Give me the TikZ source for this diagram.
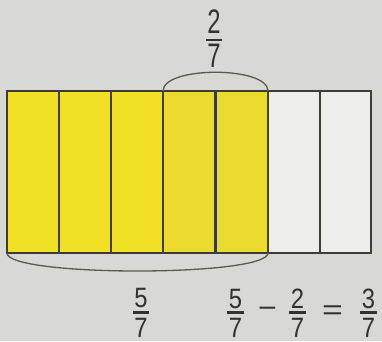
\documentclass[tikz,border=0pt]{standalone}
\usepackage{fontspec}
\setmainfont{Liberation Sans}
\definecolor{paper}{RGB}{216,216,213}
\definecolor{ylw}{RGB}{242,224,36}
\definecolor{ylwb}{RGB}{235,219,46}
\definecolor{wcell}{RGB}{237,237,235}
\definecolor{ink}{RGB}{62,60,52}
\definecolor{txt}{RGB}{50,50,50}
\tikzset{
  cell/.style={draw=ink, line width=1.8pt, anchor=north west, minimum width=52pt, minimum height=162pt, inner sep=0pt, outer sep=0pt},
  brace/.style={draw=ink!85, line width=1.3pt},
  topdig/.style={text=txt, font=\fontsize{34}{34}\selectfont, inner sep=0pt, xscale=0.7, transform shape},
  botdig/.style={text=txt, font=\fontsize{28}{28}\selectfont, inner sep=0pt, xscale=0.85, transform shape},
  fbar/.style={draw=txt, line width=2.4pt}
}
\begin{document}
\begin{tikzpicture}[x=1pt,y=-1pt]
\fill[paper] (0,0) rectangle (382,341);
\useasboundingbox (0,0) rectangle (382,341);
% cells
\node[cell, fill=ylw]   (c1) at (7,91)   {};
\node[cell, fill=ylw]   (c2) at (59,91)  {};
\node[cell, fill=ylw]   (c3) at (111,91) {};
\node[cell, fill=ylwb]  (c4) at (163,91) {};
\node[cell, fill=ylwb]  (c5) at (216,91) {};
\node[cell, fill=wcell] (c6) at (268,91) {};
\node[cell, fill=wcell, minimum width=51pt] (c7) at (320,91) {};
% arcs
\draw[brace] (c4.north west) .. controls ([yshift=25pt]c4.north west) and ([yshift=25pt]c5.north east) .. (c5.north east);
\draw[brace] (c1.south west) .. controls ([yshift=-24pt]c1.south west) and ([yshift=-24pt]c5.south east) .. (c5.south east);
% top fraction 2/7
\node[topdig] (tn) at (214,22) {2};
\draw[fbar] (206,40) -- (222,40);
\node[topdig] (td) at (214,56) {7};
% bottom left 5/7
\node[botdig] (an) at (141,298) {5};
\draw[fbar] (133,312.5) -- (149,312.5);
\node[botdig] (ad) at (141,328) {7};
% 5/7 - 2/7 = 3/7
\node[botdig] (bn) at (235.5,299) {5};
\draw[fbar] (227,312.5) -- (244,312.5);
\node[botdig] (bd) at (235.5,328) {7};
\node[botdig, xscale=1.35] (minus) at (267.5,312) {\char"2212};
\node[botdig] (cn) at (297.5,299) {2};
\draw[fbar] (289,312.5) -- (306,312.5);
\node[botdig] (cd) at (297.5,328) {7};
\node[botdig, xscale=1.5] (eq) at (332.5,312.5) {=};
\node[botdig] (dn) at (368.5,299) {3};
\draw[fbar] (360,312.5) -- (377,312.5);
\node[botdig] (dd) at (368.5,328) {7};
\end{tikzpicture}
\end{document}
